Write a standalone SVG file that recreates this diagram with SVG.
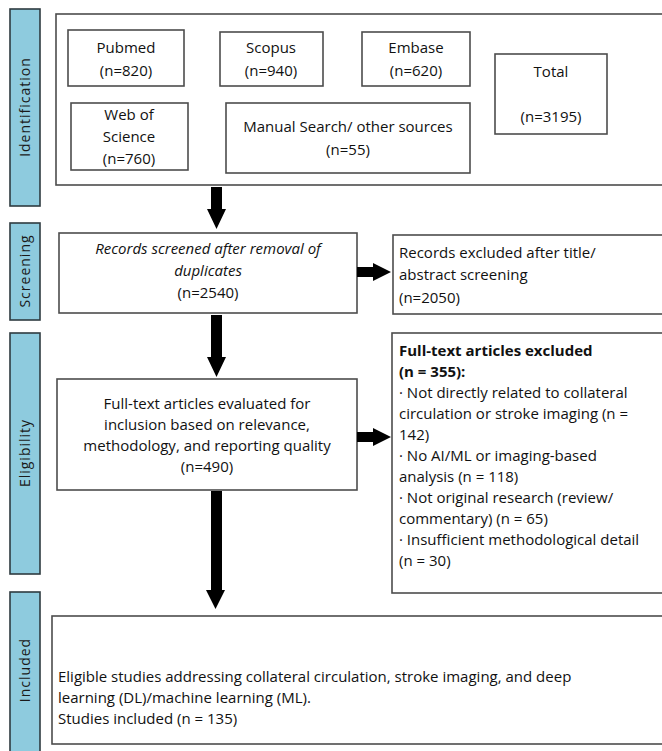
<svg xmlns="http://www.w3.org/2000/svg" width="662" height="751" viewBox="0 0 662 751">
  <style>
    text { font-family: "Open Sans", "Liberation Sans", sans-serif; font-size: 15px; fill: #111; }
    .stage rect { fill: #8ecbde; stroke: #2f3b40; stroke-width: 1.6; }
    .stage text { font-size: 14px; letter-spacing: 1px; fill: #1a1a1a; }
    .box { fill: #fff; stroke: #4d4d4d; stroke-width: 1.6; }
    .mid { text-anchor: middle; }
    .bold { font-weight: bold; }
    .ital { font-style: italic; }
    .arrow { fill: #000; }
  </style>

  <!-- stage labels -->
  <g id="stage-identification" class="stage">
    <rect x="10" y="9" width="30" height="197"/>
    <text transform="translate(30 107) rotate(-90)" class="mid">Identification</text>
  </g>
  <g id="stage-screening" class="stage">
    <rect x="10" y="223" width="30" height="97"/>
    <text transform="translate(30 271) rotate(-90)" class="mid">Screening</text>
  </g>
  <g id="stage-eligibility" class="stage">
    <rect x="10" y="333" width="30" height="241"/>
    <text transform="translate(30 453) rotate(-90)" class="mid">Eligibility</text>
  </g>
  <g id="stage-included" class="stage">
    <rect x="10" y="592" width="30" height="170"/>
    <text transform="translate(30 670) rotate(-90)" class="mid">Included</text>
  </g>

  <!-- identification sources -->
  <g id="identification">
    <rect class="box" x="56" y="14" width="620" height="171"/>
  </g>
  <g id="pubmed">
    <rect class="box" x="68" y="30" width="116" height="56"/>
    <text class="mid" x="126" y="53">Pubmed</text>
    <text class="mid" x="126" y="76">(n=820)</text>
  </g>
  <g id="scopus">
    <rect class="box" x="220" y="32" width="103" height="54"/>
    <text class="mid" x="271" y="53">Scopus</text>
    <text class="mid" x="271" y="76">(n=940)</text>
  </g>
  <g id="embase">
    <rect class="box" x="362" y="32" width="108" height="54"/>
    <text class="mid" x="416" y="53">Embase</text>
    <text class="mid" x="416" y="76">(n=620)</text>
  </g>
  <g id="total">
    <rect class="box" x="495" y="54" width="112" height="80"/>
    <text class="mid" x="551" y="77">Total</text>
    <text class="mid" x="551" y="122">(n=3195)</text>
  </g>
  <g id="web-of-science">
    <rect class="box" x="71" y="103" width="117" height="67"/>
    <text class="mid" x="129" y="120">Web of</text>
    <text class="mid" x="129" y="142">Science</text>
    <text class="mid" x="129" y="164">(n=760)</text>
  </g>
  <g id="manual-search">
    <rect class="box" x="226" y="103" width="244" height="70"/>
    <text class="mid" x="348" y="132">Manual Search/ other sources</text>
    <text class="mid" x="348" y="155">(n=55)</text>
  </g>

  <!-- screening -->
  <g id="records-screened">
    <rect class="box" x="59" y="233" width="298" height="80"/>
    <text class="mid ital" x="208" y="254">Records screened after removal of</text>
    <text class="mid ital" x="208" y="276">duplicates</text>
    <text class="mid" x="208" y="298">(n=2540)</text>
  </g>
  <g id="records-excluded">
    <rect class="box" x="393" y="235" width="280" height="79"/>
    <text x="399" y="258">Records excluded after title/</text>
    <text x="399" y="280">abstract screening</text>
    <text x="399" y="303">(n=2050)</text>
  </g>

  <!-- eligibility -->
  <g id="full-text-assessed">
    <rect class="box" x="57" y="379" width="300" height="111"/>
    <text class="mid" x="207" y="409">Full-text articles evaluated for</text>
    <text class="mid" x="207" y="430">inclusion based on relevance,</text>
    <text class="mid" x="207" y="451">methodology, and reporting quality</text>
    <text class="mid" x="207" y="472">(n=490)</text>
  </g>
  <g id="full-text-excluded">
    <rect class="box" x="392" y="333" width="281" height="260"/>
    <text class="bold" x="399" y="356">Full-text articles excluded</text>
    <text class="bold" x="399" y="377">(n = 355):</text>
    <text x="399" y="398">· Not directly related to collateral</text>
    <text x="399" y="419">circulation or stroke imaging (n =</text>
    <text x="399" y="440">142)</text>
    <text x="399" y="461">· No AI/ML or imaging-based</text>
    <text x="399" y="482">analysis (n = 118)</text>
    <text x="399" y="503">· Not original research (review/</text>
    <text x="399" y="524">commentary) (n = 65)</text>
    <text x="399" y="545">· Insufficient methodological detail</text>
    <text x="399" y="566">(n = 30)</text>
  </g>

  <!-- included -->
  <g id="studies-included">
    <rect class="box" x="52" y="616" width="621" height="128"/>
    <text x="58" y="682">Eligible studies addressing collateral circulation, stroke imaging, and deep</text>
    <text x="58" y="703">learning (DL)/machine learning (ML).</text>
    <text x="58" y="724">Studies included (n = 135)</text>
  </g>

  <!-- connectors -->
  <g id="connectors" class="arrow">
    <polygon points="211,187 222,187 222,209 226,209 216.5,229 207,209 211,209"/>
    <polygon points="211,315 222,315 222,357 226,357 216.5,377 207,357 211,357"/>
    <polygon points="211,491 222,491 222,590 225,590 215.5,609 206,590 211,590"/>
    <polygon points="357,267 373,267 373,263 391,272 373,281 373,277 357,277"/>
    <polygon points="357,432 373,432 373,428 391,437 373,446 373,442 357,442"/>
  </g>
</svg>
